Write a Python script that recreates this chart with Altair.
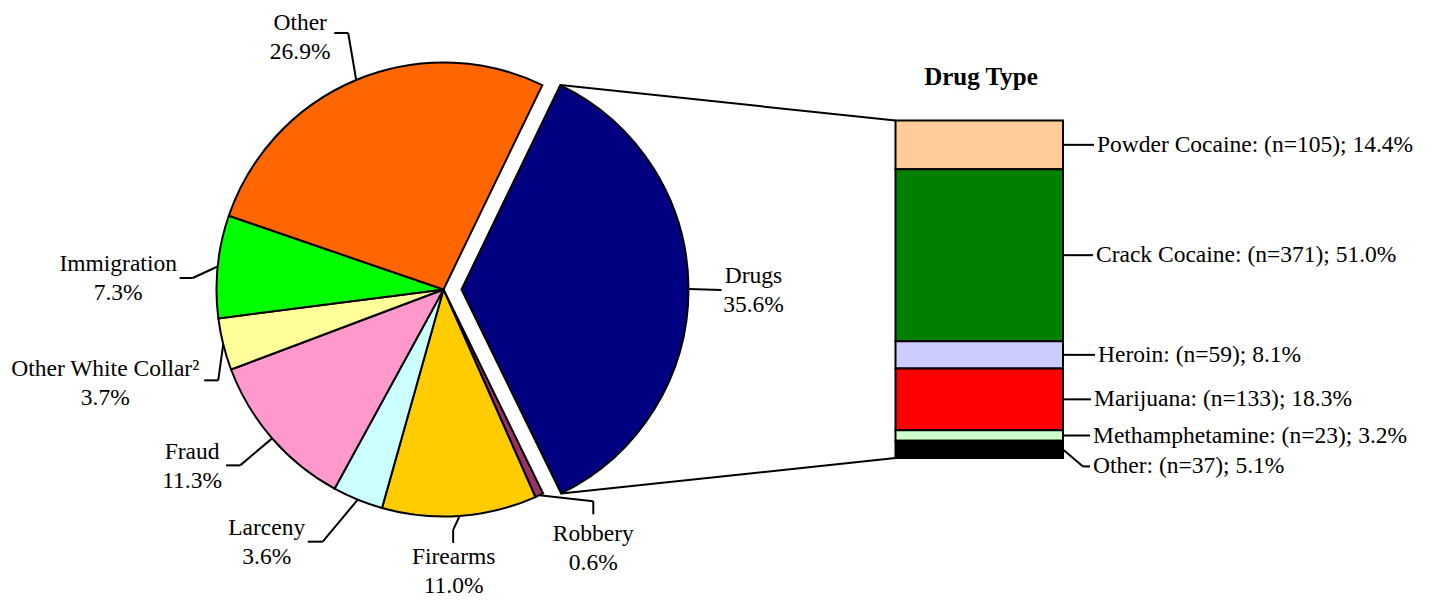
import math
import altair as alt
import pandas as pd

# ---------------- data ----------------
offense = ["Drugs", "Robbery", "Firearms", "Larceny", "Fraud",
           "Other White Collar²", "Immigration", "Other"]
offense_pct = [35.6, 0.6, 11.0, 3.6, 11.3, 3.7, 7.3, 26.9]

drug_type = ["Powder Cocaine", "Crack Cocaine", "Heroin", "Marijuana",
             "Methamphetamine", "Other"]
drug_n = [105, 371, 59, 133, 23, 37]
drug_pct = [14.4, 51.0, 8.1, 18.3, 3.2, 5.1]

# ---------------- styles ----------------
offense_colors = ["#000080", "#993366", "#FFCC00", "#CCFFFF", "#FF99CC",
                  "#FFFF99", "#00FF00", "#FF6600"]
drug_colors = ["#FFCC99", "#008000", "#CCCCFF", "#FF0000", "#CCFFCC", "#000000"]

FONT = "Liberation Serif"
FS = 23.5
LINE_GAP = 29

# ---------------- layout (chart pixel coords) ----------------
W, H = 1420, 591
OFF = 8
CX, CY = 443.5 - OFF, 289.5 - OFF
R = 227
A0 = math.radians(25.8)
explode = [18, 0, 0, 0, 0, 0, 0, 0]
# leader/label offsets relative to the slice's outer edge point
elb_dx = [33, 54, -6.5, -35, -32, -5, -25, -8]
elb_dy = [1, 6, 14, 42, 27, 36, 11.5, -47]
end_dx = [33, 54, -6.5, -50, -46, -19, -38, -22]
end_dy = [1, 19, 27, 42, 27, 36, 11.5, -47]
lab_dx = [65, 54, -6, -91, -80, -118, -99.5, -56]
lab_dy = [-6, 46, 48, 35, 21, 32, 5, -50]

BAR_L, BAR_R = 895.5 - OFF, 1063 - OFF
BAR_TOP, BAR_BOT = 120.5 - OFF, 458 - OFF
bar_shift_px = [0, 0, 0, 0, 0, 17]
bar_elb_x = [v - OFF for v in [1094, 1093, 1095, 1091, 1090, 1083]]
bar_end_x = [v - OFF for v in [1094, 1093, 1095, 1091, 1090, 1090]]

# ---------------- pie ----------------
pie_df = pd.DataFrame({
    "cat": offense, "pct": offense_pct, "order": list(range(len(offense))),
    "color": offense_colors, "explode": explode,
    "elb_dx": elb_dx, "elb_dy": elb_dy, "end_dx": end_dx, "end_dy": end_dy,
    "lab_dx": lab_dx, "lab_dy": lab_dy,
})

pie_base = (
    alt.Chart(pie_df)
    .transform_window(cum="sum(pct)", sort=[alt.SortField("order")], frame=[None, 0])
    .transform_calculate(start="datum.cum - datum.pct")
    .transform_calculate(mid="(datum.start + datum.cum) / 2")
    .transform_calculate(ang=f"{A0} + datum.mid / 100 * 2 * PI")
    .transform_calculate(a_s=f"{A0} + datum.start / 100 * 2 * PI")
    .transform_calculate(a_e=f"{A0} + datum.cum / 100 * 2 * PI")
    .transform_calculate(cx=f"{CX} + datum.explode * sin(datum.ang)")
    .transform_calculate(cy=f"{CY} - datum.explode * cos(datum.ang)")
    .transform_calculate(ex=f"datum.cx + {R} * sin(datum.ang)")
    .transform_calculate(ey=f"datum.cy - {R} * cos(datum.ang)")
    .transform_calculate(elbx="datum.ex + datum.elb_dx")
    .transform_calculate(elby="datum.ey + datum.elb_dy")
    .transform_calculate(endx="datum.ex + datum.end_dx")
    .transform_calculate(endy="datum.ey + datum.end_dy")
    .transform_calculate(lx="datum.ex + datum.lab_dx")
    .transform_calculate(ly="datum.ey + datum.lab_dy")
    .transform_calculate(ly2=f"datum.ly + {LINE_GAP}")
    .transform_calculate(pct_txt="format(datum.pct, '.1f') + '%'")
    .transform_calculate(tx=f"datum.cx + {R} * sin(datum.a_s)")
    .transform_calculate(ty=f"datum.cy - {R} * cos(datum.a_s)")
    .transform_calculate(bx=f"datum.cx + {R} * sin(datum.a_e)")
    .transform_calculate(by=f"datum.cy - {R} * cos(datum.a_e)")
)

arcs = pie_base.mark_arc(stroke="black", strokeWidth=2, radius=R).encode(
    x=alt.X("cx:Q", scale=None, axis=None),
    y=alt.Y("cy:Q", scale=None, axis=None),
    theta=alt.Theta("start:Q", scale=alt.Scale(domain=[0, 100], range=[A0, A0 + 2 * math.pi])),
    theta2="cum:Q",
    color=alt.Color("color:N", scale=None, legend=None),
)

lead1 = pie_base.mark_rule(color="black", strokeWidth=2).encode(
    x=alt.X("ex:Q", scale=None, axis=None), x2="elbx:Q",
    y=alt.Y("ey:Q", scale=None, axis=None), y2="elby:Q",
)
lead2 = pie_base.mark_rule(color="black", strokeWidth=2).encode(
    x=alt.X("elbx:Q", scale=None, axis=None), x2="endx:Q",
    y=alt.Y("elby:Q", scale=None, axis=None), y2="endy:Q",
)
name_txt = pie_base.mark_text(font=FONT, fontSize=FS, align="center",
                              baseline="alphabetic", color="black").encode(
    x=alt.X("lx:Q", scale=None, axis=None),
    y=alt.Y("ly:Q", scale=None, axis=None),
    text="cat:N",
)
pct_txt = pie_base.mark_text(font=FONT, fontSize=FS, align="center",
                             baseline="alphabetic", color="black").encode(
    x=alt.X("lx:Q", scale=None, axis=None),
    y=alt.Y("ly2:Q", scale=None, axis=None),
    text="pct_txt:N",
)

drug_only = pie_base.transform_filter(alt.datum.explode > 0)
conn_top = drug_only.mark_rule(color="black", strokeWidth=2).encode(
    x=alt.X("tx:Q", scale=None, axis=None), x2=alt.value(BAR_L),
    y=alt.Y("ty:Q", scale=None, axis=None), y2=alt.value(BAR_TOP),
)
conn_bot = drug_only.mark_rule(color="black", strokeWidth=2).encode(
    x=alt.X("bx:Q", scale=None, axis=None), x2=alt.value(BAR_L),
    y=alt.Y("by:Q", scale=None, axis=None), y2=alt.value(BAR_BOT),
)

# ---------------- stacked drug-type bar ----------------
total_n = sum(drug_n)
ybar = alt.Scale(domain=[0, total_n], range=[BAR_TOP, BAR_BOT])
bar_df = pd.DataFrame({
    "cat": drug_type, "n": drug_n, "pct": drug_pct, "color": drug_colors,
    "order": list(range(len(drug_type))), "shift_px": bar_shift_px,
    "elbx": bar_elb_x, "endx": bar_end_x,
})
bar_base = (
    alt.Chart(bar_df)
    .transform_window(cum="sum(n)", sort=[alt.SortField("order")], frame=[None, 0])
    .transform_calculate(b0="datum.cum - datum.n")
    .transform_calculate(mid="datum.cum - datum.n / 2")
    .transform_calculate(lyy=f"datum.mid + datum.shift_px * {total_n} / {BAR_BOT - BAR_TOP}")
    .transform_calculate(x0=f"{BAR_R}")
    .transform_calculate(tx="datum.endx + 3")
    .transform_calculate(
        label="datum.cat + ': (n=' + datum.n + '); ' + format(datum.pct, '.1f') + '%'")
)
bars = bar_base.mark_rect(stroke="black", strokeWidth=2).encode(
    x=alt.value(BAR_L), x2=alt.value(BAR_R),
    y=alt.Y("b0:Q", scale=ybar, axis=None), y2="cum:Q",
    color=alt.Color("color:N", scale=None, legend=None),
)
blead1 = bar_base.mark_rule(color="black", strokeWidth=2).encode(
    x=alt.X("x0:Q", scale=None, axis=None), x2="elbx:Q",
    y=alt.Y("mid:Q", scale=ybar, axis=None), y2="lyy:Q",
)
blead2 = bar_base.mark_rule(color="black", strokeWidth=2).encode(
    x=alt.X("elbx:Q", scale=None, axis=None), x2="endx:Q",
    y=alt.Y("lyy:Q", scale=ybar, axis=None), y2="lyy:Q",
)
blabel = bar_base.mark_text(font=FONT, fontSize=FS, align="left",
                            baseline="middle", color="black").encode(
    x=alt.X("tx:Q", scale=None, axis=None),
    y=alt.Y("lyy:Q", scale=ybar, axis=None),
    text="label:N",
)

title = alt.Chart(pd.DataFrame({"t": ["Drug Type"]})).mark_text(
    font=FONT, fontSize=25, fontWeight="bold", align="center",
    baseline="alphabetic", color="black",
).encode(x=alt.value(981 - OFF), y=alt.value(85 - OFF), text="t:N")

chart = (
    alt.layer(arcs, conn_top, conn_bot, lead1, lead2, name_txt, pct_txt,
              bars, blead1, blead2, blabel, title)
    .resolve_scale(x="independent", y="independent", theta="independent",
                   color="independent")
    .properties(width=W, height=H, padding=0, autosize="none", background="white")
    .configure_view(stroke=None)
)

chart.save("out.html", embed_options={"renderer": "svg", "actions": False})
